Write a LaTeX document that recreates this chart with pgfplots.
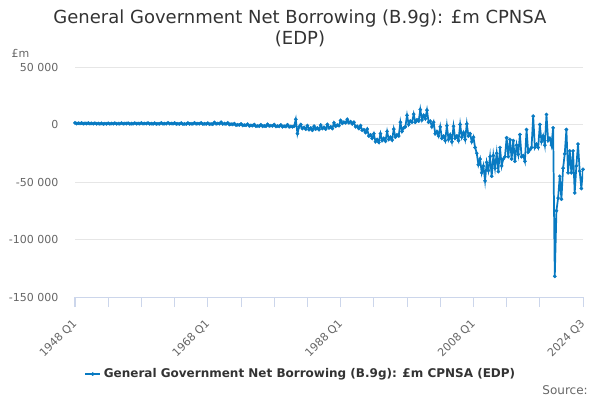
\documentclass[border=0pt]{standalone}
\usepackage{pgfplots}
\usepackage{pgfplotstable}
\pgfplotsset{compat=1.18}
\usepackage{fontspec}
\setmainfont{DejaVu Sans}
\definecolor{mainblue}{RGB}{8,122,194}
\definecolor{titlegray}{HTML}{333333}
\definecolor{labelgray}{HTML}{666666}
\definecolor{gridgray}{HTML}{E6E6E6}
\definecolor{axisblue}{HTML}{CCD6EB}

\pgfplotstableread{
v
1400
800
1100
900
1300
700
1000
800
1200
800
1000
700
1100
600
900
600
1000
500
800
600
1100
600
900
700
1200
600
800
700
1300
700
900
800
1200
600
800
700
1300
700
900
700
1400
700
900
800
1300
600
800
600
1200
500
700
600
1400
600
800
700
1500
700
900
700
1300
500
700
500
1200
300
600
400
1400
500
700
600
1500
600
800
700
1400
400
700
500
1200
200
500
300
1800
600
900
700
2000
500
800
500
1500
0
300
100
800
-500
-200
-400
500
-800
-500
-700
300
-1200
-800
-1000
0
-1500
-1200
-1400
-200
-1600
-1200
-1500
200
-1300
-1000
-1200
0
-1700
-1300
-1600
-300
-2000
-1500
-1800
-200
-2100
-1700
-2000
-1500
4500
-8000
-2000
0
-3500
-2500
-4000
-1000
-4500
-3000
-5000
-1500
-4000
-3000
-4500
-500
-3500
-2500
-4000
0
-3000
-2000
-3500
1500
-1500
-500
-1000
3500
1000
2000
1500
4500
1500
2500
500
2000
-2000
-1500
-3500
-1000
-5000
-4500
-7000
-4000
-10000
-9000
-12000
-8000
-15000
-13000
-15500
-8000
-14000
-12000
-14500
-6000
-13000
-11000
-13500
-4000
-11000
-9000
-10000
2000
-6000
-3000
-2000
8000
0
3000
2000
9000
2000
4000
3000
13000
4000
8000
5000
12500
2000
3000
-2000
2000
-8000
-6000
-10000
-2000
-12000
-10000
-14000
-1000
-13000
-9000
-15000
-1500
-12000
-10000
-14000
0
-11000
-7000
-13000
500
-10000
-8000
-15000
-11000
-20000
-25000
-35000
-30000
-42000
-36000
-49000
-33000
-40000
-28000
-45000
-27000
-38000
-25000
-41000
-20000
-36000
-30000
-28000
-11500
-28000
-13000
-30000
-14000
-32000
-18000
-26000
-8700
-28000
-27000
-32000
-4400
-24000
-22000
-20000
7250
-20000
-17000
-20000
0
-15000
-10000
-18000
8700
-14000
-12000
-18000
-2900
-132000
-75000
-64000
-45000
-65000
-38000
-25500
-4350
-42000
-23000
-42000
-23000
-59500
-36000
-17000
-40600
-55700
-39000
}\gbdata

\begin{document}
\begin{tikzpicture}
\path[use as bounding box] (0,0) rectangle (450pt,300pt);
\node[text=titlegray, font=\fontsize{13.5}{16}\selectfont] at (225pt,286pt) {General Government Net Borrowing (B.9g): £m CPNSA};
\node[text=titlegray, font=\fontsize{13.5}{16}\selectfont] at (225pt,270.5pt) {(EDP)};
\node[text=labelgray, font=\fontsize{8.25}{10}\selectfont, anchor=west, inner sep=0pt] at (8.5pt,260pt) {£m};
\node[text=labelgray, font=\fontsize{9}{11}\selectfont, anchor=south east, inner sep=0pt] at (441pt,4pt) {Source:};
\begin{axis}[
  at={(56.25pt,77.25pt)}, anchor=south west,
  scale only axis, width=381pt, height=172.5pt,
  xmin=0, xmax=306, ymin=-150000, ymax=50000,
  axis x line*=bottom, axis y line*=left,
  x axis line style={draw=axisblue, line width=0.75pt, -},
  y axis line style={draw=none},
  xtick={0,80,160,240,306},
  xticklabels={1948 Q1,1968 Q1,1988 Q1,2008 Q1,2024 Q3},
  minor xtick={20,40,60,100,120,140,180,200,220,260,280},
  xtick style={draw=axisblue, line width=0.75pt},
  tick align=outside, major tick length=7.5pt, minor tick length=7.5pt,
  ytick={-150000,-100000,-50000,0,50000},
  yticklabels={-150 000,-100 000,-50 000,0,50 000},
  ytick style={draw=none},
  scaled y ticks=false,
  ymajorgrids, grid style={gridgray, line width=0.75pt},
  yticklabel style={text=labelgray, font=\fontsize{8.25}{10}\selectfont, xshift=-1.5pt},
  xticklabel style={text=labelgray, font=\fontsize{8.25}{10}\selectfont, xshift=2.5pt, yshift=-8.5pt, rotate=45, anchor=east},
  legend style={at={(0.445,-0.335)}, anchor=center, draw=none, fill=none,
     font=\bfseries\fontsize{9}{11}\selectfont, text=titlegray},
  legend image code/.code={\draw[mark repeat=2,mark phase=2,#1] plot coordinates {(0cm,0cm) (0.2cm,0cm) (0.4cm,0cm)};},
]
\addplot[mainblue, line width=1.3pt, mark=*, mark size=1.3pt, mark options={solid, fill=mainblue, draw=mainblue, line width=0.2pt}] table[x expr=\coordindex, y=v] {\gbdata};
\addlegendentry{General Government Net Borrowing (B.9g): £m CPNSA (EDP)}
\end{axis}
\end{tikzpicture}
\end{document}
